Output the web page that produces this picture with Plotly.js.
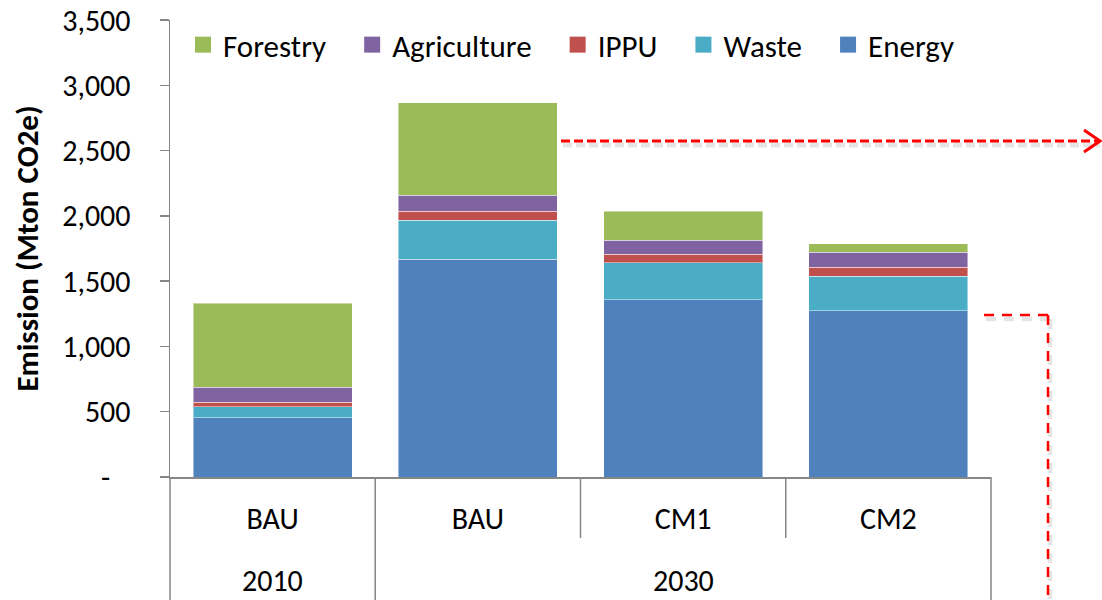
<!DOCTYPE html>
<html>
<head>
<meta charset="utf-8">
<script src="https://cdn.plot.ly/plotly-3.0.1.min.js"></script>
<style>html,body{margin:0;padding:0;background:#fff;}#chart{width:1102px;height:600px;}</style>
</head>
<body>
<div id="chart"></div>
<script>
// ---- data ----
const scenarios = ['BAU', 'BAU', 'CM1', 'CM2'];
const years = ['2010', '2030', '2030', '2030'];
const energy = [452, 1669, 1358, 1273];
const waste = [86, 296, 283, 266];
const ippu = [36, 72, 66, 69];
const agriculture = [112, 119, 108, 112];
const forestry = [646, 710, 219, 66];
const yTickVals = [0, 500, 1000, 1500, 2000, 2500, 3000, 3500];
const yTickText = ['-\u00a0\u00a0\u00a0', '500', '1,000', '1,500', '2,000', '2,500', '3,000', '3,500'];

// ---- build ----
const FONT = 'Carlito, Lato, "Open Sans", sans-serif';
const xKeys = scenarios.map((s, i) => years[i] + ' ' + s);
const seriesDefs = [
  {name: 'Energy', y: energy, color: '#4F81BD'},
  {name: 'Waste', y: waste, color: '#4BACC6'},
  {name: 'IPPU', y: ippu, color: '#C0504D'},
  {name: 'Agriculture', y: agriculture, color: '#8064A2'},
  {name: 'Forestry', y: forestry, color: '#9BBB59'}
];
const PAD = '\u00a0\u00a0\u00a0';
const traces = [];
seriesDefs.forEach(s => {
  traces.push({
    type: 'bar', name: s.name, x: xKeys, y: s.y, legendgroup: s.name, showlegend: false,
    marker: {color: s.color, line: {color: 'rgba(255,255,255,0.45)', width: 1}},
    hoverinfo: 'skip'
  });
});
// legend entries (square swatches); legend is shown in reversed order
seriesDefs.forEach((s, i) => {
  traces.push({
    type: 'scatter', mode: 'markers', name: s.name + (i === 0 ? '' : PAD), legendgroup: s.name,
    x: [null], y: [null], showlegend: true,
    marker: {symbol: 'square', size: 16, color: s.color, line: {width: 0}},
    hoverinfo: 'skip'
  });
});

// plot area geometry (paper fractions)
const L = 170, R = 111, T = 20, B = 123, W = 1102, H = 600;
const pw = W - L - R, ph = H - T - B;
const px = v => (v - L) / pw;
const py = v => (H - B - v) / ph;

const n = xKeys.length;
const gridColor = '#868686';
const shapes = [];
// category separators below the axis
for (let i = 0; i <= n; i++) {
  const groupEdge = (i === 0 || i === n || years[i] !== years[i - 1]);
  shapes.push({type: 'line', xref: 'paper', yref: 'paper',
    x0: i / n, x1: i / n, y0: 0, y1: groupEdge ? py(605) : py(538),
    line: {color: gridColor, width: 1.5}});
}
// year labels
const annotations = [];
const uniqYears = [...new Set(years)];
uniqYears.forEach(yr => {
  const idx = years.map((v, i) => v === yr ? i : -1).filter(i => i >= 0);
  const c = (idx[0] + idx[idx.length - 1] + 1) / 2 / n;
  annotations.push({text: yr, xref: 'paper', yref: 'paper', x: c, y: py(580),
    xanchor: 'center', yanchor: 'middle', showarrow: false,
    font: {family: FONT, size: 30, color: '#000'}});
});

// red dashed arrows (with soft shadow)
const red = '#FF0000';
const shadow = 'rgba(0,0,0,0.10)';
function dline(x0, y0, x1, y1, dash, w) {
  shapes.push({type: 'line', xref: 'paper', yref: 'paper',
    x0: px(x0 + 2), y0: py(y0 + 4), x1: px(x1 + 2), y1: py(y1 + 4),
    line: {color: shadow, width: w + 2, dash: dash}});
  shapes.push({type: 'line', xref: 'paper', yref: 'paper',
    x0: px(x0), y0: py(y0), x1: px(x1), y1: py(y1),
    line: {color: red, width: w, dash: dash}});
}
dline(561, 141, 1098, 141, '9px,4px', 3);
shapes.push({type: 'path', xref: 'paper', yref: 'paper',
  path: `M ${px(1084)},${py(130)} L ${px(1100)},${py(141)} L ${px(1084)},${py(152)}`,
  line: {color: red, width: 3}});
dline(984, 315, 1048, 315, '10px,8px', 2.5);
dline(1048, 315, 1048, 600, '10px,8px', 2.5);

const layout = {
  width: W, height: H,
  margin: {l: L, r: R, t: T, b: B, pad: 0},
  paper_bgcolor: '#fff', plot_bgcolor: '#fff',
  barmode: 'stack', bargap: 0.225,
  showlegend: true,
  legend: {orientation: 'h', traceorder: 'reversed',
    x: px(183), y: py(18),
    xanchor: 'left', yanchor: 'top', bgcolor: 'rgba(0,0,0,0)',
    font: {family: FONT, size: 31, color: '#000'}},
  xaxis: {type: 'category', range: [-0.5, n - 0.5], tickvals: xKeys, ticktext: scenarios,
    showline: true, linecolor: gridColor, linewidth: 1.5, ticks: '', showgrid: false,
    zeroline: false, ticklabelstandoff: 14,
    tickfont: {family: FONT, size: 30, color: '#000'}},
  yaxis: {range: [0, 3500], tickvals: yTickVals, ticktext: yTickText,
    showline: true, linecolor: gridColor, linewidth: 1.5, ticks: 'outside', ticklen: 9,
    tickcolor: gridColor, tickwidth: 1.5, showgrid: false, zeroline: false,
    ticklabelstandoff: 23,
    tickfont: {family: FONT, size: 30, color: '#000'},
    title: {text: 'Emission (Mton CO2e)', standoff: 14,
      font: {family: FONT, size: 31, color: '#000', weight: 'bold'}}},
  shapes: shapes, annotations: annotations,
  hovermode: false
};
Plotly.newPlot('chart', traces, layout, {staticPlot: true, displayModeBar: false});
</script>
</body>
</html>
